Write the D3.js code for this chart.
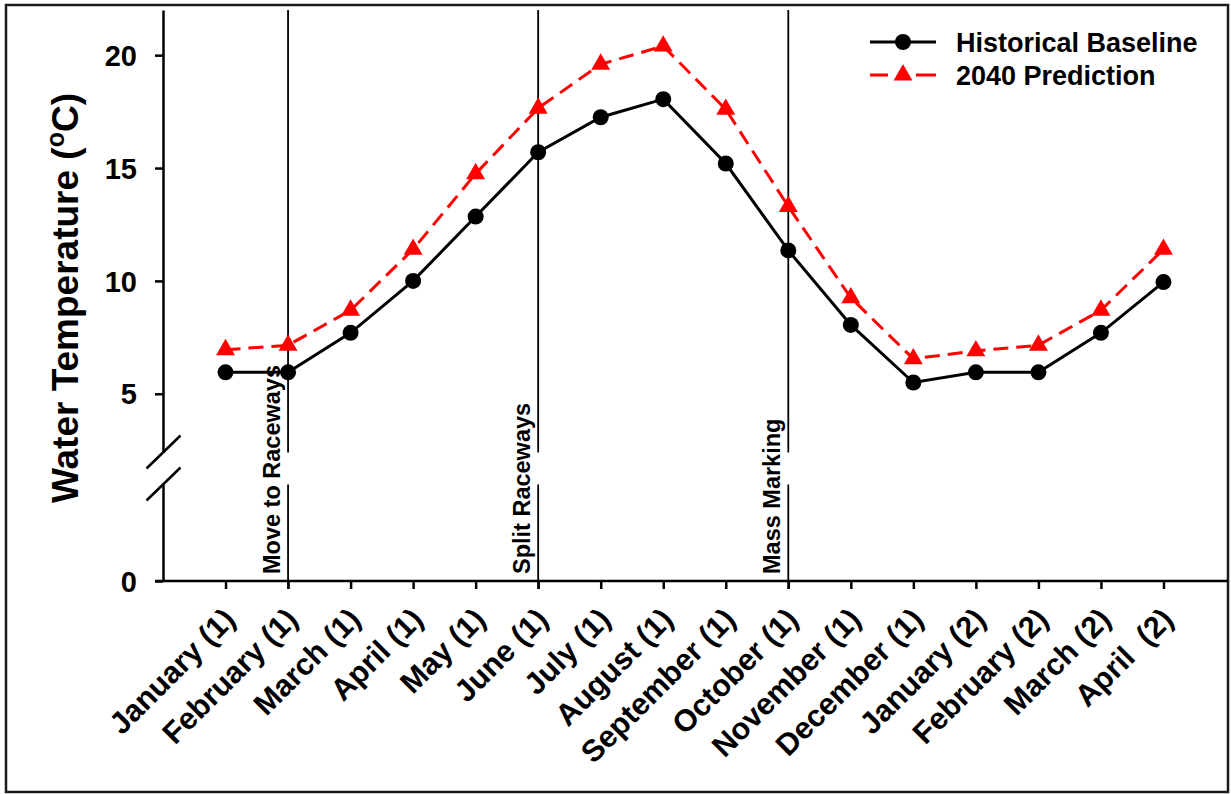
<!DOCTYPE html>
<html>
<head>
<meta charset="utf-8">
<script src="https://cdn.jsdelivr.net/npm/d3@7"></script>
<style>
  html, body { margin: 0; padding: 0; background: #fff; }
  svg { display: block; }
  text { font-family: "Liberation Sans", Arial, Helvetica, sans-serif; fill: #000; }
</style>
</head>
<body>
<svg id="chart" width="1231" height="794"></svg>
<script>
// Monthly water temperature: historical baseline vs. 2040 prediction
const categories = ["January (1)", "February (1)", "March (1)", "April (1)", "May (1)", "June (1)",
  "July (1)", "August (1)", "September (1)", "October (1)", "November (1)", "December (1)",
  "January (2)", "February (2)", "March (2)", "April  (2)"];
const baseline   = [5.95, 5.95, 7.7, 10.0, 12.85, 15.7, 17.25, 18.05, 15.2, 11.35, 8.05, 5.5, 5.95, 5.95, 7.7, 9.95];
const prediction = [6.95, 7.15, 8.7, 11.4, 14.75, 17.65, 19.6, 20.4, 17.6, 13.3, 9.25, 6.55, 6.9, 7.15, 8.7, 11.4];
const upperTicks = [5, 10, 15, 20];
const lowerTicks = [0];
const eventMonths = ["February (1)", "June (1)", "October (1)"];
const eventLabels = ["Move to Raceways", "Split Raceways", "Mass Marking"];
const seriesNames = ["Historical Baseline", "2040 Prediction"];

const svg = d3.select("#chart");
const plotL = 163, plotR = 1228, plotT = 10, plotB = 581;
const breakLo = 2.4, breakTop = 22;  // upper panel range of the broken y axis
const gapTopPx = 452.5, gapBotPx = 484.5;

// outer frame
svg.append("rect").attr("x", 6).attr("y", 5).attr("width", 1222).attr("height", 787)
  .attr("fill", "none").attr("stroke", "#1a1a1a").attr("stroke-width", 2.5);

const x = d3.scalePoint().domain(categories).range([plotL, 1226]).padding(1);
const yUpper = d3.scaleLinear().domain([breakLo, breakTop]).range([gapTopPx, plotT]);
const yLower = d3.scaleLinear().domain([0, breakLo]).range([plotB, gapBotPx]);

// event markers (vertical lines broken at the axis gap)
const ev = svg.append("g");
eventMonths.forEach((m, i) => {
  const xp = x(m);
  ev.append("line").attr("x1", xp).attr("x2", xp).attr("y1", yUpper(breakTop)).attr("y2", yUpper(breakLo))
    .attr("stroke", "#000").attr("stroke-width", 1.8);
  ev.append("line").attr("x1", xp).attr("x2", xp).attr("y1", yLower(breakLo)).attr("y2", plotB + 8)
    .attr("stroke", "#000").attr("stroke-width", 1.8);
  ev.append("text")
    .attr("transform", `translate(${xp - 8.5},${plotB - 7}) rotate(-90)`)
    .attr("text-anchor", "start")
    .style("font-size", "23.5px").style("font-weight", "bold")
    .text(eventLabels[i]);
});

// y axis (two panels)
const fmt = d3.format("d");
const axUp = svg.append("g").attr("transform", `translate(${plotL},0)`)
  .call(d3.axisLeft(yUpper).tickValues(upperTicks).tickFormat(fmt).tickSize(8).tickSizeOuter(0).tickPadding(18));
const axLo = svg.append("g").attr("transform", `translate(${plotL},0)`)
  .call(d3.axisLeft(yLower).tickValues(lowerTicks).tickFormat(fmt).tickSize(8).tickSizeOuter(0).tickPadding(18));
[axUp, axLo].forEach(g => {
  g.select(".domain").attr("stroke", "#000").attr("stroke-width", 2.5);
  g.selectAll(".tick line").attr("stroke", "#000").attr("stroke-width", 2.5);
  g.selectAll(".tick text").style("font-size", "29px").style("font-weight", "bold")
    .attr("dy", "0.35em").attr("fill", "#000");
});

// break marks
[gapTopPx, gapBotPx].forEach(yp => {
  svg.append("line").attr("x1", plotL - 16.5).attr("y1", yp + 16).attr("x2", plotL + 17.5).attr("y2", yp - 17)
    .attr("stroke", "#000").attr("stroke-width", 2.5);
});

// x axis
svg.append("line").attr("x1", plotL - 8).attr("x2", plotR).attr("y1", plotB).attr("y2", plotB)
  .attr("stroke", "#000").attr("stroke-width", 2.5);
const axX = svg.append("g").attr("transform", `translate(0,${plotB})`)
  .call(d3.axisBottom(x).tickSize(8).tickSizeOuter(0));
axX.select(".domain").remove();
axX.selectAll(".tick line").attr("stroke", "#000").attr("stroke-width", 2.5);
axX.selectAll(".tick text")
  .attr("x", 0).attr("y", 0).attr("dy", 0)
  .attr("transform", "translate(11,40) rotate(-45)")
  .attr("text-anchor", "end")
  .style("white-space", "pre")
  .style("font-size", "30.5px").style("font-weight", "bold").attr("fill", "#000");

// y axis title
const yt = svg.append("text")
  .attr("transform", "translate(78,298) rotate(-90)")
  .attr("text-anchor", "middle")
  .style("font-size", "37px").style("font-weight", "bold");
yt.append("tspan").text("Water Temperature (");
yt.append("tspan").text("o").style("font-size", "25px").attr("dy", "-0.55em");
yt.append("tspan").text("C)").attr("dy", "0.37em");

// series
const line = d3.line().x((d, i) => x(categories[i])).y(d => yUpper(d));
svg.append("path").datum(prediction).attr("d", line)
  .attr("fill", "none").attr("stroke", "#ff0000").attr("stroke-width", 3).attr("stroke-dasharray", "15,8");
svg.append("path").datum(baseline).attr("d", line)
  .attr("fill", "none").attr("stroke", "#000").attr("stroke-width", 3);

const tri = d3.symbol().type(d3.symbolTriangle).size(155);
svg.append("g").selectAll("path").data(prediction).join("path")
  .attr("transform", (d, i) => `translate(${x(categories[i])},${yUpper(d)})`)
  .attr("d", tri).attr("fill", "#ff0000");
svg.append("g").selectAll("circle").data(baseline).join("circle")
  .attr("cx", (d, i) => x(categories[i])).attr("cy", d => yUpper(d)).attr("r", 8).attr("fill", "#000");

// legend
const lg = svg.append("g");
const rows = [42, 75];
lg.append("line").attr("x1", 870).attr("x2", 936).attr("y1", rows[0]).attr("y2", rows[0])
  .attr("stroke", "#000").attr("stroke-width", 3);
lg.append("circle").attr("cx", 903).attr("cy", rows[0]).attr("r", 8).attr("fill", "#000");
lg.append("line").attr("x1", 870).attr("x2", 936).attr("y1", rows[1]).attr("y2", rows[1])
  .attr("stroke", "#ff0000").attr("stroke-width", 3).attr("stroke-dasharray", "18,46");
lg.append("line").attr("x1", 916).attr("x2", 934).attr("y1", rows[1]).attr("y2", rows[1])
  .attr("stroke", "#ff0000").attr("stroke-width", 3);
lg.append("path").attr("transform", `translate(903,${rows[1]})`).attr("d", tri).attr("fill", "#ff0000");
seriesNames.forEach((n, i) => {
  lg.append("text").attr("x", 956).attr("y", rows[i] + 9.5)
    .style("font-size", "27px").style("font-weight", "bold").text(n);
});
</script>
</body>
</html>
